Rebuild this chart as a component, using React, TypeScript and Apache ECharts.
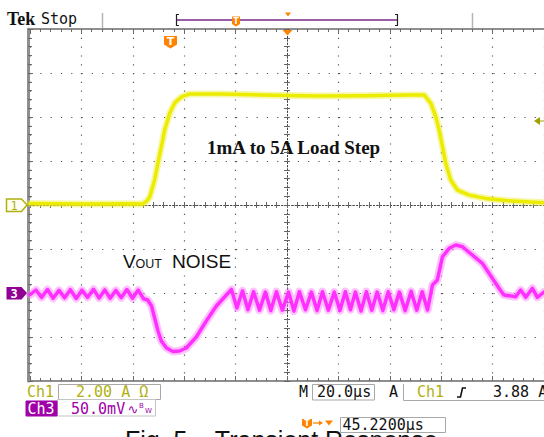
import React, { useEffect, useRef } from "react";
import * as echarts from "echarts";

// Time axis: microseconds relative to screen centre (20 µs/div, 10 div)
const timeMin = -100;
const timeMax = 100;
const timePerDiv = 20;
// Ch1: load current, 2.00 A/div, 0 A at centre
const ch1Min = -8;
const ch1Max = 8;
const ch1PerDiv = 2;
// Ch3: Vout noise, 50 mV/div, 0 mV two divisions above bottom
const ch3Min = -100;
const ch3Max = 300;
const ch3PerDiv = 50;

const ch1Time = [-100, -80, -60, -56.1, -54.6, -53.4, -51.5, -50.2, -48.9, -47.6, -45.6, -43.7, -41.1, -37.9, -26.2, -10, 0, 12.6, 30, 47.6, 53.4, 56.0, 57.9, 59.2, 60.5, 61.8, 63.7, 66.3, 70.9, 77.3, 85.1, 100];
const ch1Amps = [0.07, 0.05, 0.06, 0.05, 0.18, 0.36, 1.14, 1.91, 2.64, 3.41, 4.18, 4.64, 4.91, 5.05, 5.05, 5.0, 4.98, 4.95, 4.97, 5.0, 5.0, 4.62, 4.01, 3.41, 2.65, 1.89, 1.14, 0.68, 0.45, 0.30, 0.20, 0.10];

const ch3Time = [
  -100, -97.7, -95.5, -93.2, -91.0, -88.7, -86.5, -84.3, -82.0, -79.8, -77.6, -75.3, -73.1, -70.9, -68.8, -66.6, -64.5, -62.3, -60.1, -57.9, -55.8,
  -54.2, -52.7, -51.5, -50.2, -48.9, -46.9, -44.4, -41.8, -39.2, -35.3, -31.4, -27.5, -24.3, -21.6,
  -19.5, -17.3, -15.2, -13.0, -10.7, -8.4, -6.3, -4.1, -1.8, 0.6, 2.7, 4.8, 7.2, 9.5, 11.7, 13.8, 16.1, 18.4, 20.6, 22.7, 24.7, 26.6, 28.8, 30.9, 33.0, 35.1, 37.3, 39.4, 41.6, 43.7, 46.0, 48.3, 50.5, 52.6, 54.7,
  56.6, 58.5, 60.5, 63.1, 65.7, 68.3, 72.1, 76.0, 79.9, 82.5, 84.4, 89.0, 90.9, 92.9, 95.5, 97.4, 100,
];
const ch3MilliVolts = [
  -2, 3.4, -5.2, 4.0, -6.0, 3.0, -5.5, 3.8, -6.2, 3.2, -5.0, 4.2, -5.8, 3.5, -6.0, 3.0, -5.4, 3.9, -5.9, 3.3, -6.5,
  -8.0, -14.8, -28.4, -43.2, -54.5, -62.5, -66.5, -65.9, -62.5, -50.0, -31.8, -14.8, -4.5, 4.0,
  -17.0, 2.5, -19.0, 1.5, -19.5, 1.0, -20.0, 1.5, -19.5, 1.0, -20.5, 1.5, -19.0, 1.0, -20.0, 1.5, -19.5, 1.0, -20.0, 1.5, -19.0, 1.0, -20.5, 1.5, -19.5, 1.0, -20.0, 1.5, -19.0, 1.0, -20.0, 2.0, -19.5, 1.5, -19.3,
  9.1, 14.8, 41.2, 50.8, 54.5, 52.6, 43.2, 33.7, 16.7, 5.3, -2.3, -4.2, 3.4, -4.9, 5.3, -4.9, 1.1,
];

const ch1Scale = "2.00 A Ω";
const ch3Scale = "50.0mV";
const timeBase = "20.0µs";
const triggerLevel = "3.88 A";
const horizPos = "45.2200µs";
const caption = "Fig. 5 – Transient Response";

const OLIVE = "#b0b012";
const PURPLE = "#a000a8";
const ORANGE = "#ff8200";
const MONO = '"DejaVu Sans Mono"';

function txt(x: number, y: number, text: string, fill: string, font: string, align = "left") {
  return {
    type: "text",
    x,
    y,
    z: 20,
    silent: true,
    style: { text, fill, font, align, verticalAlign: "middle", textAlign: align, textVerticalAlign: "middle" },
  };
}
function poly(points: number[][], fill: string, stroke?: string, lw = 1) {
  return {
    type: "polygon",
    z: 20,
    silent: true,
    shape: { points },
    style: stroke ? { fill, stroke, lineWidth: lw } : { fill },
  };
}
function pline(points: number[][], stroke: string, lw = 1) {
  return { type: "polyline", z: 20, silent: true, shape: { points }, style: { stroke, lineWidth: lw, fill: "none" } };
}
function box(x: number, y: number, w: number, h: number, stroke: string, fill = "#ffffff") {
  return { type: "rect", z: 19, silent: true, shape: { x, y, width: w, height: h }, style: { fill, stroke, lineWidth: 1 } };
}

const borderX = (position: string) => ({
  type: "value",
  min: timeMin,
  max: timeMax,
  interval: timePerDiv,
  position,
  axisLine: { show: true, onZero: false, lineStyle: { color: "#8e8e8e", width: 2 } },
  axisTick: { show: true, inside: true, length: 5, lineStyle: { color: "#6a6a6a", width: 1 } },
  minorTick: { show: true, splitNumber: 5, length: 3, lineStyle: { color: "#6a6a6a", width: 1 } },
  axisLabel: { show: false },
  splitLine: { show: false },
});
const centreX = (inside: boolean) => ({
  type: "value",
  min: timeMin,
  max: timeMax,
  interval: timePerDiv,
  position: "bottom",
  axisLine: { show: true, onZero: true, onZeroAxisIndex: 0, lineStyle: { color: "#444", width: 1, type: [1.2, 2.2] } },
  axisTick: { show: true, inside, length: 3, lineStyle: { color: "#666", width: 1 } },
  minorTick: { show: true, splitNumber: 5, length: 3, lineStyle: { color: "#666", width: 1 } },
  axisLabel: { show: false },
  splitLine: { show: false },
});
const centreY = (inside: boolean) => ({
  type: "value",
  min: ch1Min,
  max: ch1Max,
  interval: ch1PerDiv,
  position: "left",
  axisLine: { show: true, onZero: true, onZeroAxisIndex: 0, lineStyle: { color: "#444", width: 1, type: [1.2, 2.2] } },
  axisTick: { show: true, inside, length: 3, lineStyle: { color: "#666", width: 1 } },
  minorTick: { show: true, splitNumber: 5, length: 3, lineStyle: { color: "#666", width: 1 } },
  axisLabel: { show: false },
  splitLine: { show: false },
});

export default function App() {
  const ref = useRef<HTMLDivElement>(null);
  useEffect(() => {
    if (!ref.current) return;
    const chart = echarts.init(ref.current, null, { renderer: "svg" });
    const ch1Data = ch1Time.map((t, i) => [t, ch1Amps[i]]);
    const ch3Data = ch3Time.map((t, i) => [t, ch3MilliVolts[i]]);

    const graphic: any[] = [
      // top status bar
      txt(7, 19, "Tek", "#111", 'bold 18px "Liberation Serif"'),
      txt(41, 19, "Stop", "#111", `15px ${MONO}`),
      { type: "line", z: 20, silent: true, shape: { x1: 102.5, y1: 13, x2: 102.5, y2: 28 }, style: { stroke: "#b4b4b4", lineWidth: 1.5 } },
      { type: "line", z: 20, silent: true, shape: { x1: 472.5, y1: 13, x2: 472.5, y2: 28 }, style: { stroke: "#b4b4b4", lineWidth: 1.5 } },
      { type: "line", z: 20, silent: true, shape: { x1: 177, y1: 20, x2: 397, y2: 20 }, style: { stroke: "#7a2a8a", lineWidth: 1.5 } },
      pline([[179, 14.5], [176.5, 14.5], [176.5, 25.5], [179, 25.5]], "#222", 1.2),
      pline([[395, 14.5], [397.5, 14.5], [397.5, 25.5], [395, 25.5]], "#222", 1.2),
      poly([[232, 16.5], [240, 16.5], [240, 24], [236, 26.5], [232, 24]], ORANGE),
      txt(236, 21, "T", "#fff", "bold 8px \"DejaVu Sans\"", "center"),
      poly([[285, 12.5], [291, 12.5], [288, 16.5]], ORANGE),
      // trigger markers on graticule
      poly([[282.5, 30], [292.5, 30], [287.5, 35.5]], ORANGE),
      poly([[164, 36], [177, 36], [177, 44.5], [170.5, 48.5], [164, 44.5]], ORANGE),
      txt(170.5, 41.5, "T", "#fff", "bold 11px \"DejaVu Sans\"", "center"),
      // channel ground markers
      poly([[6.5, 199], [21.5, 199], [27, 205], [21.5, 211.5], [6.5, 211.5]], "#fffff2", OLIVE, 1.5),
      txt(14, 205.5, "1", OLIVE, `12px ${MONO}`, "center"),
      poly([[6.5, 287], [21.5, 287], [27, 293], [21.5, 299.5], [6.5, 299.5]], "#900094"),
      txt(14, 293.5, "3", "#fff", `bold 12px ${MONO}`, "center"),
      // trigger level marker
      poly([[534, 121], [540, 117], [540, 125]], "#a0a000"),
      { type: "line", z: 20, silent: true, shape: { x1: 540, y1: 121, x2: 544, y2: 121 }, style: { stroke: "#a0a000", lineWidth: 1 } },
      // annotations
      txt(207, 147, "1mA to 5A Load Step", "#111", 'bold 19px "Liberation Serif"'),
      txt(123, 261.5, "V", "#111", '19px "Liberation Sans"'),
      txt(135.5, 263.5, "OUT", "#111", '12.5px "Liberation Sans"'),
      txt(172, 261.5, "NOISE", "#111", '19px "Liberation Sans"'),
      // readouts
      txt(27, 392, "Ch1", OLIVE, `15px ${MONO}`),
      box(58.5, 384.5, 102, 15, "#a8a8a8"),
      txt(76, 392, ch1Scale, OLIVE, `15px ${MONO}`),
      box(57.5, 399.5, 98, 16.5, "#c4c4c4"),
      box(26, 401, 31, 15, PURPLE, PURPLE),
      txt(27.5, 408.5, "Ch3", "#fff", `15px ${MONO}`),
      txt(71, 408.5, ch3Scale, PURPLE, `15px ${MONO}`),
      txt(127.5, 409, "∿", PURPLE, '13px "DejaVu Sans"'),
      txt(139, 405.5, "B", PURPLE, '7px "DejaVu Sans"'),
      txt(145, 410.5, "W", PURPLE, '7px "DejaVu Sans"'),
      txt(299, 392, "M", "#111", `15px ${MONO}`),
      box(312.5, 384.5, 62, 15.5, "#a8a8a8"),
      txt(317, 392, timeBase, "#111", `15px ${MONO}`),
      txt(389, 392, "A", "#111", `15px ${MONO}`),
      pline([[403.5, 384], [403.5, 400.5], [544, 400.5]], "#a8a8a8", 1),
      txt(417, 392, "Ch1", OLIVE, `15px ${MONO}`),
      pline([[457, 397], [460.5, 397], [462.5, 388], [466, 388]], "#111", 1.6),
      txt(493, 392, triggerLevel, "#111", `15px ${MONO}`),
      poly([[302, 419], [312, 419], [312, 425.5], [307, 428.5], [302, 425.5]], ORANGE),
      txt(307, 423, "T", "#fff", 'bold 8px "DejaVu Sans"', "center"),
      { type: "line", z: 20, silent: true, shape: { x1: 313, y1: 423, x2: 320, y2: 423 }, style: { stroke: ORANGE, lineWidth: 1.3 } },
      poly([[319, 420.5], [323, 423], [319, 425.5]], ORANGE),
      poly([[325, 420.5], [333, 420.5], [329, 425.5]], ORANGE),
      box(340.5, 417.5, 105, 15, "#a8a8a8"),
      txt(342.5, 425, horizPos, "#111", `15px ${MONO}`),
      txt(125, 440, caption, "#111", '25px "Liberation Sans"'),
    ];

    chart.setOption({
      animation: false,
      backgroundColor: "#ffffff",
      grid: { left: 30, top: 29, width: 515, height: 352, show: false },
      xAxis: [
        {
          ...borderX("bottom"),
          splitLine: { show: true, lineStyle: { color: "#555", width: 1.2, type: [1.2, 7.6] } },
        },
        borderX("top"),
        centreX(true),
        centreX(false),
      ],
      yAxis: [
        {
          type: "value",
          min: ch1Min,
          max: ch1Max,
          interval: ch1PerDiv,
          position: "left",
          offset: 2,
          axisLine: { show: true, onZero: false, lineStyle: { color: "#8e8e8e", width: 3 } },
          axisTick: { show: true, inside: true, length: 5, lineStyle: { color: "#6a6a6a", width: 1 } },
          minorTick: { show: true, splitNumber: 5, length: 4, lineStyle: { color: "#6a6a6a", width: 1 } },
          axisLabel: { show: false },
          splitLine: { show: true, lineStyle: { color: "#555", width: 1.2, type: [1.2, 9.1] } },
        },
        { type: "value", show: false, min: ch3Min, max: ch3Max, interval: ch3PerDiv, splitLine: { show: false } },
        centreY(true),
        centreY(false),
      ],
      series: [
        {
          type: "line", xAxisIndex: 0, yAxisIndex: 0, data: ch1Data, symbol: "none", silent: true, z: 3,
          lineStyle: { color: "rgba(238,238,70,0.45)", width: 7, join: "round", cap: "round" },
        },
        {
          type: "line", xAxisIndex: 0, yAxisIndex: 0, data: ch1Data, symbol: "none", silent: true, z: 4,
          lineStyle: { color: "#ecec00", width: 3.5, join: "round", cap: "round" },
        },
        {
          type: "line", xAxisIndex: 0, yAxisIndex: 1, data: ch3Data, symbol: "none", silent: true, z: 3,
          lineStyle: { color: "rgba(255,120,255,0.45)", width: 8, join: "round", cap: "round" },
        },
        {
          type: "line", xAxisIndex: 0, yAxisIndex: 1, data: ch3Data, symbol: "none", silent: true, z: 4,
          lineStyle: { color: "#ff30ff", width: 3.5, join: "round", cap: "round" },
        },
      ],
      graphic,
    });
    return () => chart.dispose();
  }, []);
  return <div ref={ref} style={{ position: "absolute", left: 0, top: 0, width: 544, height: 437, background: "#fff" }} />;
}
